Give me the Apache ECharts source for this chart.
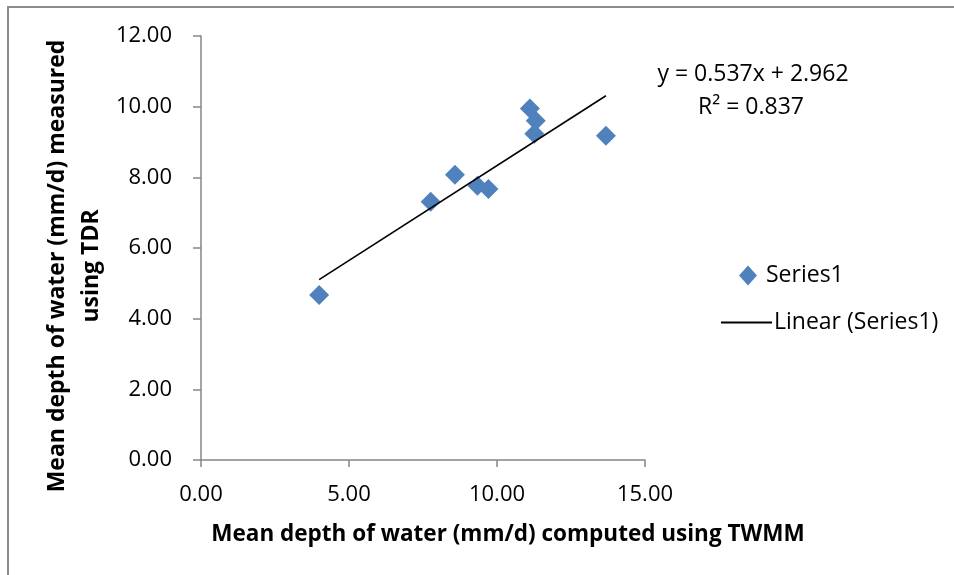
<!DOCTYPE html>
<html>
<head>
<meta charset="utf-8">
<script src="https://cdn.jsdelivr.net/npm/echarts@6/dist/echarts.min.js"></script>
<style>
html,body{margin:0;padding:0;background:#fff;}
#chart{width:954px;height:575px;}
</style>
</head>
<body>
<div id="chart"></div>
<script>
// Data
var xValues = [3.99, 7.76, 8.58, 9.34, 9.71, 11.11, 11.31, 11.26, 13.68];
var yValues = [4.67, 7.31, 8.07, 7.76, 7.67, 9.95, 9.60, 9.23, 9.18];
var trendSlope = 0.537;
var trendIntercept = 2.962;
var equationText = 'y = 0.537x + 2.962';
var r2Text = 'R² = 0.837';
var xTitle = 'Mean depth of water (mm/d) computed using TWMM';
var yTitle = 'Mean depth of water (mm/d) measured\nusing TDR';
var seriesName = 'Series1';
var trendName = 'Linear (Series1)';

var points = xValues.map(function (x, i) { return [x, yValues[i]]; });
var xMin = Math.min.apply(null, xValues), xMax = Math.max.apply(null, xValues);
var trendData = [[xMin, trendSlope * xMin + trendIntercept], [xMax, trendSlope * xMax + trendIntercept]];

var FONT = 'Open Sans';
var chart = echarts.init(document.getElementById('chart'), null, {renderer: 'canvas'});
chart.setOption({
  animation: false,
  backgroundColor: '#fff',
  textStyle: {fontFamily: FONT},
  grid: {left: 201, top: 36, width: 444, height: 424, containLabel: false, outerBoundsMode: 'none'},
  xAxis: {
    type: 'value', min: 0, max: 15, interval: 5,
    axisLine: {show: true, onZero: false, lineStyle: {color: '#868686', width: 1.5}},
    axisTick: {show: true, length: 7, lineStyle: {color: '#868686', width: 1.5}},
    splitLine: {show: false},
    axisLabel: {margin: 24, color: '#000', fontSize: 22, fontFamily: FONT,
      formatter: function (v) { return v.toFixed(2); }}
  },
  yAxis: {
    type: 'value', min: 0, max: 12, interval: 2,
    axisLine: {show: true, onZero: false, lineStyle: {color: '#868686', width: 1.5}},
    axisTick: {show: true, length: 8, lineStyle: {color: '#868686', width: 1.5}},
    splitLine: {show: false},
    axisLabel: {margin: 29, color: '#000', fontSize: 22, fontFamily: FONT,
      formatter: function (v) { return v.toFixed(2); }}
  },
  legend: [{
    data: [{name: seriesName, icon: 'diamond'}],
    left: 734, top: 259, itemWidth: 18, itemHeight: 20, itemGap: 0,
    textStyle: {fontSize: 23, color: '#000', fontFamily: FONT, padding: [0, 0, 0, 4]}
  }, {
    data: [{name: trendName, icon: 'rect'}],
    left: 716, top: 306, itemWidth: 51, itemHeight: 2,
    textStyle: {fontSize: 23, color: '#000', fontFamily: FONT, padding: [0, 0, 0, -3]}
  }],
  graphic: [
    {type: 'rect', silent: true, shape: {x: 8, y: 7, width: 1200, height: 1200},
     style: {fill: 'none', stroke: '#8c8c8c', lineWidth: 2}},
    {type: 'text', silent: true, x: 753, y: 74,
     style: {text: equationText, fill: '#000', font: '23px "Open Sans"', textAlign: 'center', textVerticalAlign: 'middle'}},
    {type: 'text', silent: true, x: 751, y: 107,
     style: {text: r2Text, fill: '#000', font: '23px "Open Sans"', textAlign: 'center', textVerticalAlign: 'middle'}},
    {type: 'text', silent: true, x: 508, y: 535,
     style: {text: xTitle, fill: '#000', font: 'bold 22.5px "Open Sans"', textAlign: 'center', textVerticalAlign: 'middle'}},
    {type: 'text', silent: true, x: 74, y: 266, rotation: Math.PI / 2,
     style: {text: yTitle, fill: '#000', font: 'bold 23px "Open Sans"', lineHeight: 34, textAlign: 'center', textVerticalAlign: 'middle'}}
  ],
  series: [{
    name: seriesName, type: 'scatter', data: points,
    symbol: 'diamond', symbolSize: [20, 20],
    itemStyle: {color: '#4F81BD', opacity: 1}, z: 3
  }, {
    name: trendName, type: 'line', data: trendData,
    symbol: 'none', showSymbol: false,
    lineStyle: {color: '#000', width: 1.6}, itemStyle: {color: '#000'}, z: 4
  }]
});
</script>
</body>
</html>
